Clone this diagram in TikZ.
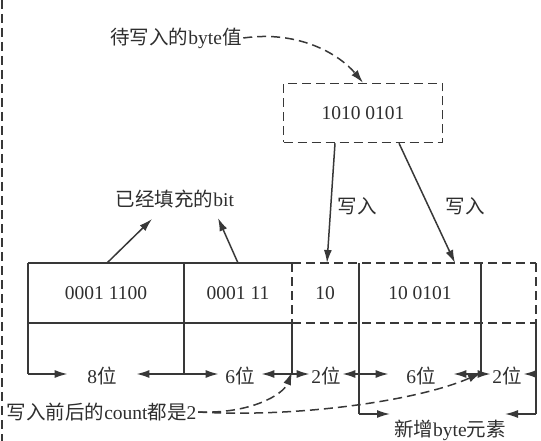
\documentclass[tikz,border=0pt]{standalone}
\usepackage{fontspec}
\setmainfont{Liberation Serif}
\newfontfamily\cjk{Noto Sans CJK SC}
\usetikzlibrary{arrows.meta,calc}
\begin{document}
\begin{tikzpicture}[x=1pt,y=-1pt,
  line width=1.5pt, color=black!78,
  dsh/.style={dash pattern=on 9pt off 5pt},
  arr/.style={-{Latex[length=13pt,width=8pt]}},
  lbl/.style={font=\fontsize{19.5}{22}\selectfont, text=black!82, inner sep=1pt}]
\useasboundingbox (0,0) rectangle (541,441);

% left edge
\draw[dsh] (2,0) -- (2,441);

% table grid
\coordinate (t0) at (28,263);  \coordinate (m0) at (28,323);
\coordinate (t1) at (184,263); \coordinate (t2) at (292,263);
\coordinate (m2) at (292,323); \coordinate (t3) at (359,263);
\coordinate (t4) at (481,263); \coordinate (t5) at (536,263);
\coordinate (m5) at (536,323);
\coordinate (v0) at (28,374);  \coordinate (v1) at (184,374);
\coordinate (v2) at (292,374); \coordinate (v3) at (359,374);
\coordinate (v4) at (481,374); \coordinate (v5) at (536,374);
\coordinate (b3) at (359,414); \coordinate (b5) at (536,414);

\draw (t0) -- (t2);
\draw (m0) -- (m2);
\draw[dsh] (t2) -- (t5);
\draw[dsh] (m2) -- (m5);
\draw[dsh] (t2) -- (m2);
\draw[dsh] (t5) -- (m5);
\draw (t0) -- (v0);
\draw (t1) -- (v1);
\draw (m2) -- (v2);
\draw (t3) -- (b3);
\draw (t4) -- (v4);
\draw (m5) -- (b5);

% cell texts
\node[lbl] (c1) at (106,293) {0001 1100};
\node[lbl] (c2) at (238,293) {0001 11};
\node[lbl] (c3) at (325,293) {10};
\node[lbl] (c4) at (420,293) {10 0101};

% width labels
\node[lbl, inner xsep=19pt] (w1) at (102,376) {8{\cjk 位}};
\node[lbl, inner xsep=6pt]  (w2) at (240,376) {6{\cjk 位}};
\node[lbl, inner xsep=1pt]  (w3) at (326,376) {2{\cjk 位}};
\node[lbl, inner xsep=17pt] (w4) at (421,376) {6{\cjk 位}};
\node[lbl, inner xsep=1pt]  (w5) at (507,376) {2{\cjk 位}};
\draw[arr] (v0) -- (v0 -| w1.west);
\draw[arr] (v1) -- (v1 -| w1.east);
\draw[arr] (v1) -- (v1 -| w2.west);
\draw[arr] (v2) -- (v2 -| w2.east);
\draw[arr] (v2) -- (v2 -| w3.west);
\draw[arr] (v3) -- (v3 -| w3.east);
\draw[arr] (v3) -- (v3 -| w4.west);
\draw[arr] (v4) -- (v4 -| w4.east);
\draw[arr] (v4) -- (v4 -| w5.west);
\draw[arr] (v5) -- (v5 -| w5.east);

% new byte
\node[lbl] (nb) at (450,430) {{\cjk 新增}byte{\cjk 元素}};
\coordinate (n1) at (390,414);
\coordinate (n2) at (505,414);
\draw[arr] (b3) -- (n1);
\draw[arr] (b5) -- (n2);

% byte box
\node[lbl, draw, dsh, minimum width=159pt, minimum height=59pt] (box) at (363,113) {1010 0101};
\node[lbl] (val) at (176,38) {{\cjk 待写入的}byte{\cjk 值}};
\draw[arr, dsh] (val.east) .. controls (300,30) and (340,55) .. (box.north);

\coordinate (s1) at ([xshift=-28pt]box.south);
\coordinate (s2) at ([xshift=36pt]box.south);
\coordinate (e1) at (327,263);
\coordinate (e2) at (455,263);
\draw[arr] (s1) -- (e1);
\draw[arr] (s2) -- (e2);
\node[lbl] (wr1) at (357,206) {\cjk 写入};
\node[lbl] (wr2) at (465,206) {\cjk 写入};

% filled bits
\node[lbl] (fill) at (175,199) {{\cjk 已经填充的}bit};
\coordinate (f1) at (107,263);
\coordinate (f2) at (238,263);
\draw[arr] (f1) -- (152,219);
\draw[arr] (f2) -- (218,218);

% count
\node[lbl, anchor=west] (cnt) at (5,412) {{\cjk 写入前后的}count{\cjk 都是}2};
\draw[arr, dsh] (cnt.east) .. controls (250,414) and (283,395) .. ([yshift=2pt]v2);
\draw[arr, dsh] (cnt.east) .. controls (300,418) and (420,400) .. ([yshift=1pt]v4);
\end{tikzpicture}
\end{document}
